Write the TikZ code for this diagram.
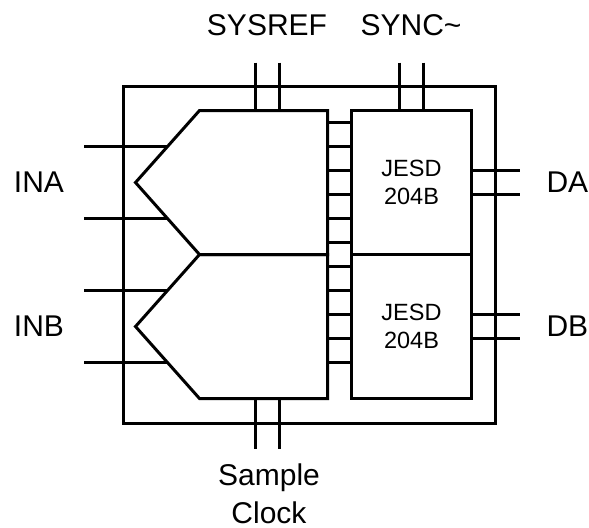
\documentclass[tikz,border=0pt]{standalone}
\usepackage{fontspec}
\setmainfont{Liberation Sans}
\begin{document}
\begin{tikzpicture}[x=0.5pt,y=-0.5pt,line width=1.5pt,
    lbl/.style={inner sep=0pt,font=\fontsize{15}{19}\selectfont,align=center},
    jesd/.style={draw,minimum width=60pt,minimum height=72pt,inner sep=0pt,align=center,font=\fontsize{11.75}{14}\selectfont}]
    \useasboundingbox (0,0) rectangle (589,527);
    \draw (123.5,86.5) rectangle (495.5,423.5);
    \foreach \dy in {0,144} {
        \draw (199.5,110.5+\dy) -- (327.5,110.5+\dy) -- (327.5,254.5+\dy) -- (199.5,254.5+\dy) -- (135.5,182.5+\dy) -- cycle;
    }
    \node[jesd] (jesdA) at (411.5,182.5) {JESD\\204B};
    \node[jesd] (jesdB) at (411.5,326.5) {JESD\\204B};
    \foreach \k in {0,...,10} {
        \draw (327.5,122.5+24*\k) -- (jesdA.west |- 0,122.5+24*\k);
    }
    \foreach \y in {146.5,218.5,290.5,362.5} {
        \draw (84,\y) -- (167.5,\y);
    }
    \foreach \y in {170.5,194.5,314.5,338.5} {
        \draw (jesdA.east |- 0,\y) -- (520,\y);
    }
    \foreach \x in {255.5,279.5,399.5,423.5} {
        \draw (\x,62.5) -- (\x,110.5);
    }
    \foreach \x in {255.5,279.5} {
        \draw (\x,398.5) -- (\x,448.5);
    }
    \node[lbl] (sysref) at (267,25) {SYSREF};
    \node[lbl] (sync) at (411,25) {SYNC\textasciitilde};
    \node[lbl] (ina) at (39,182.5) {INA};
    \node[lbl] (inb) at (39,326.5) {INB};
    \node[lbl,anchor=west] (da) at (545,182.5) {DA};
    \node[lbl,anchor=west] (db) at (545,326.5) {DB};
    \node[lbl,anchor=north] (clk) at (269,462) {Sample\\Clock};
\end{tikzpicture}
\end{document}
